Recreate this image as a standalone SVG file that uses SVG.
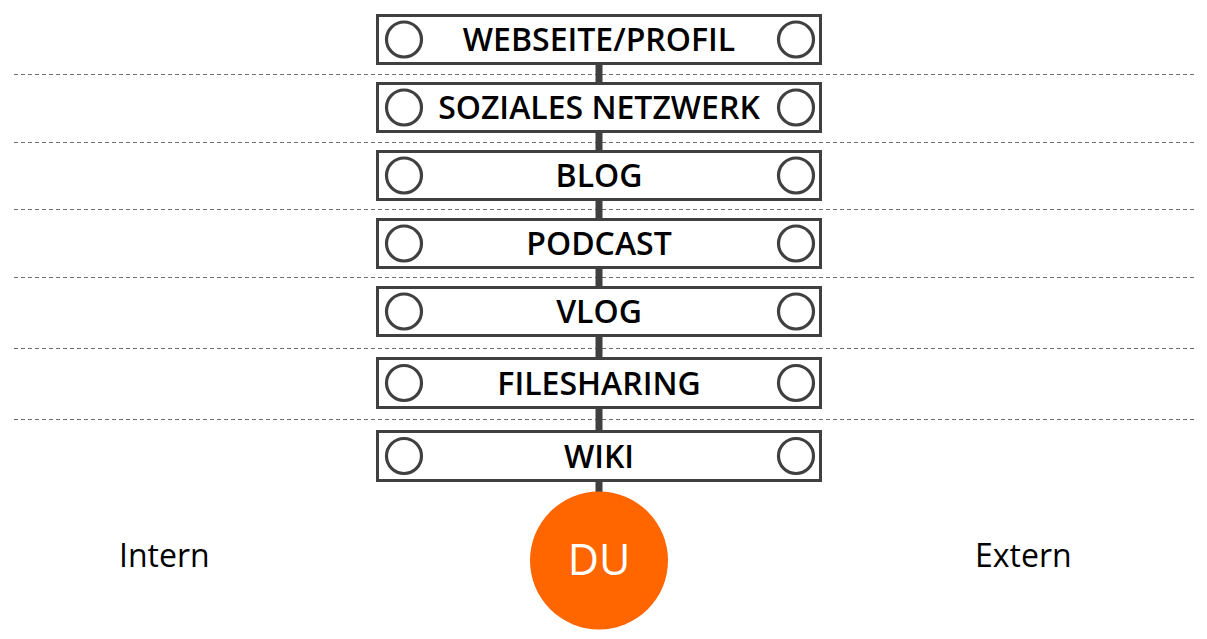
<svg xmlns="http://www.w3.org/2000/svg" width="1207" height="639" viewBox="0 0 1207 639">
<style>
.sep{stroke:#6e6e6e;stroke-width:1;stroke-dasharray:4 3;fill:none}
.box{fill:#fff;stroke:#404040;stroke-width:3}
.knob{fill:none;stroke:#404040;stroke-width:3.2}
.lbl{font-family:"Open Sans","Liberation Sans",sans-serif;font-weight:600;font-size:32px;fill:#000;text-anchor:middle}
.side{font-family:"Open Sans","Liberation Sans",sans-serif;font-size:32px;fill:#000}
</style>
<rect width="1207" height="639" fill="#fff"/>
<g id="separators">
<line class="sep" x1="14" y1="74.5" x2="1197" y2="74.5"/>
<line class="sep" x1="14" y1="142.5" x2="1197" y2="142.5"/>
<line class="sep" x1="14" y1="209.5" x2="1197" y2="209.5"/>
<line class="sep" x1="14" y1="277.5" x2="1197" y2="277.5"/>
<line class="sep" x1="14" y1="348.5" x2="1197" y2="348.5"/>
<line class="sep" x1="14" y1="419.5" x2="1197" y2="419.5"/>
</g>
<g id="connectors">
<rect x="595.5" y="60" width="7" height="440" fill="#404040"/>
</g>
<g id="n1"><rect class="box" x="377.5" y="15.5" width="443" height="48"/><circle class="knob" cx="404" cy="39.5" r="17.5"/><circle class="knob" cx="796" cy="39.5" r="17.5"/><text class="lbl" x="599" y="51">WEBSEITE/PROFIL</text></g>
<g id="n2"><rect class="box" x="377.5" y="83.5" width="443" height="48"/><circle class="knob" cx="404" cy="107.5" r="17.5"/><circle class="knob" cx="796" cy="107.5" r="17.5"/><text class="lbl" x="599" y="119">SOZIALES NETZWERK</text></g>
<g id="n3"><rect class="box" x="377.5" y="151.5" width="443" height="48"/><circle class="knob" cx="404" cy="175.5" r="17.5"/><circle class="knob" cx="796" cy="175.5" r="17.5"/><text class="lbl" x="599" y="187">BLOG</text></g>
<g id="n4"><rect class="box" x="377.5" y="219.5" width="443" height="48"/><circle class="knob" cx="404" cy="243.5" r="17.5"/><circle class="knob" cx="796" cy="243.5" r="17.5"/><text class="lbl" x="599" y="255">PODCAST</text></g>
<g id="n5"><rect class="box" x="377.5" y="287.5" width="443" height="48"/><circle class="knob" cx="404" cy="311.5" r="17.5"/><circle class="knob" cx="796" cy="311.5" r="17.5"/><text class="lbl" x="599" y="323">VLOG</text></g>
<g id="n6"><rect class="box" x="377.5" y="358.5" width="443" height="49"/><circle class="knob" cx="404" cy="383" r="17.5"/><circle class="knob" cx="796" cy="383" r="17.5"/><text class="lbl" x="599" y="394.5">FILESHARING</text></g>
<g id="n7"><rect class="box" x="377.5" y="431.5" width="443" height="49"/><circle class="knob" cx="404" cy="456" r="17.5"/><circle class="knob" cx="796" cy="456" r="17.5"/><text class="lbl" x="599" y="467.5">WIKI</text></g>
<g id="du"><circle cx="599" cy="560.5" r="69" fill="#ff6600"/><text x="599" y="575" font-family="Open Sans, Liberation Sans, sans-serif" font-size="43" fill="#fff" text-anchor="middle">DU</text></g>
<g id="labels">
<text class="side" x="119" y="567">Intern</text>
<text class="side" x="975" y="567">Extern</text>
</g>
</svg>
